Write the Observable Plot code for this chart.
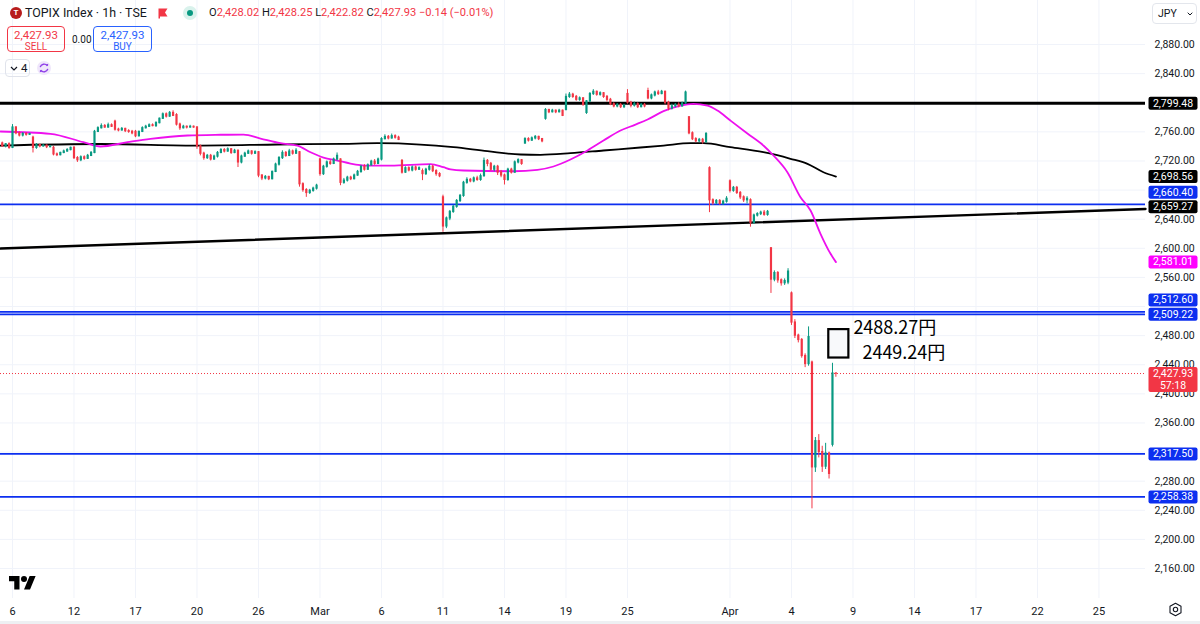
<!DOCTYPE html>
<html><head><meta charset="utf-8">
<script src="https://cdn.jsdelivr.net/npm/d3@7"></script>
<script src="https://cdn.jsdelivr.net/npm/@observablehq/plot@0.6"></script>
<style>
html,body{margin:0;padding:0;background:#fff;}
#wrap{position:relative;width:1200px;height:624px;overflow:hidden;font-family:Roboto,"Liberation Sans",sans-serif;color:#131722;}
#chart{position:absolute;left:0;top:0;}
.ov{position:absolute;white-space:nowrap;}
.r{color:#F23645;}
</style></head><body><div id="wrap"><div id="chart"></div>
<div class="ov" style="left:10px;top:7px;width:12px;height:12px;border-radius:50%;background:#b71c1c;color:#fff;font-weight:bold;font-size:8px;text-align:center;line-height:12px">T</div>
<div class="ov" style="left:25px;top:5px;font-size:12.4px;line-height:16px">TOPIX Index · 1h · TSE</div>
<svg class="ov" style="left:157px;top:7px" width="12" height="12" viewBox="0 0 12 12"><path d="M1.5 1.5H10.5L8 5.5L10.5 9.5H3V11.5H1.5Z" fill="#F23645"/></svg>
<div class="ov" style="left:183px;top:6px;width:14px;height:14px;border-radius:50%;background:#d9f2ec"></div>
<div class="ov" style="left:187px;top:10px;width:6px;height:6px;border-radius:50%;background:#089981"></div>
<div class="ov" style="left:209px;top:5px;font-size:11.1px;line-height:16px">O<span class="r">2,428.02</span> H<span class="r">2,428.25</span> L<span class="r">2,422.82</span> C<span class="r">2,427.93</span> <span class="r">−0.14 (−0.01%)</span></div>
<div class="ov" style="left:7px;top:26px;width:56px;height:24px;border:1px solid #F23645;border-radius:4px;text-align:center;color:#F23645">
 <div style="font-size:11.5px;line-height:13px;margin-top:2px">2,427.93</div><div style="font-size:10px;line-height:10px">SELL</div></div>
<div class="ov" style="left:72px;top:34px;font-size:10px;line-height:12px">0.00</div>
<div class="ov" style="left:93px;top:26px;width:57px;height:24px;border:1px solid #2962FF;border-radius:4px;text-align:center;color:#2962FF">
 <div style="font-size:11.5px;line-height:13px;margin-top:2px">2,427.93</div><div style="font-size:10px;line-height:10px">BUY</div></div>
<div class="ov" style="left:5px;top:59px;width:23px;height:16px;border:1px solid #e0e3eb;border-radius:4px;font-size:11.5px;line-height:16px">
 <svg style="position:absolute;left:4px;top:6px" width="8" height="5" viewBox="0 0 8 5"><path d="M1 1L4 4L7 1" fill="none" stroke="#131722" stroke-width="1.2"/></svg>
 <span style="position:absolute;left:15px;top:0">4</span></div>
<svg class="ov" style="left:37px;top:61px" width="14" height="14" viewBox="0 0 14 14"><circle cx="7" cy="7" r="7" fill="#efe6fb"/>
 <path d="M3.2 6.2A4 4 0 0 1 10.3 4.8" fill="none" stroke="#8e3fe8" stroke-width="1.4"/><path d="M10.8 7.8A4 4 0 0 1 3.7 9.2" fill="none" stroke="#8e3fe8" stroke-width="1.4"/>
 <path d="M9 3.6L11 5.2L11.2 2.8Z" fill="#8e3fe8"/><path d="M5 10.4L3 8.8L2.8 11.2Z" fill="#8e3fe8"/></svg>
<div class="ov" style="left:1152px;top:3px;width:43px;height:19px;border:1px solid #e3e6ec;border-radius:4px;font-size:10.5px;line-height:19px">
 <span style="position:absolute;left:5px">JPY</span>
 <svg style="position:absolute;left:34px;top:8px" width="6" height="4" viewBox="0 0 6 4"><path d="M0.7 0.7L3 3L5.3 0.7" fill="none" stroke="#131722" stroke-width="1"/></svg></div>
<svg class="ov" style="left:9px;top:573px" width="27" height="21" viewBox="0 0 36 28"><path d="M14 22H7V11H0V4h14v18zM28 22h-8l7.5-18h8L28 22z" fill="#000"/><circle cx="20" cy="8" r="4" fill="#000"/></svg>
<svg class="ov" style="left:1168px;top:602px" width="15" height="15" viewBox="0 0 15 15"><path d="M7.5 1.2L13 4.3V10.7L7.5 13.8L2 10.7V4.3Z" fill="none" stroke="#131722" stroke-width="1.1" stroke-linejoin="round"/><circle cx="7.5" cy="7.5" r="2.2" fill="none" stroke="#131722" stroke-width="1.1"/></svg>
<div class="ov" style="left:0;top:621px;width:1200px;height:3px;background:#eef0f3"></div>
</div>
<script>
// ---- time axis (trading sessions) ----
const tradingDays = ["2025-02-05","2025-02-06","2025-02-07","2025-02-10","2025-02-12","2025-02-13","2025-02-14","2025-02-17","2025-02-18","2025-02-19","2025-02-20","2025-02-21","2025-02-25","2025-02-26","2025-02-27","2025-02-28","2025-03-03","2025-03-04","2025-03-05","2025-03-06","2025-03-07","2025-03-10","2025-03-11","2025-03-12","2025-03-13","2025-03-14","2025-03-17","2025-03-18","2025-03-19","2025-03-21","2025-03-24","2025-03-25","2025-03-26","2025-03-27","2025-03-28","2025-03-31","2025-04-01","2025-04-02","2025-04-03","2025-04-04","2025-04-07","2025-04-08","2025-04-09","2025-04-10","2025-04-11","2025-04-14","2025-04-15","2025-04-16","2025-04-17","2025-04-18","2025-04-21","2025-04-22","2025-04-23","2025-04-24","2025-04-25","2025-04-28"];
const xTickDates = ["2025-02-06","2025-02-12","2025-02-17","2025-02-20","2025-02-26","2025-03-03","2025-03-06","2025-03-11","2025-03-14","2025-03-19","2025-03-25","2025-04-01","2025-04-04","2025-04-09","2025-04-14","2025-04-17","2025-04-22","2025-04-25"];
const xTickLabels = ["6","12","17","20","26","Mar","6","11","14","19","25","Apr","4","9","14","17","22","25"];
const yGrid = [2160,2200,2240,2280,2320,2360,2400,2440,2480,2520,2560,2600,2640,2680,2720,2760,2800,2840,2880];
// tick labels hidden behind the price-scale labels are not drawn (as on the reference)
const yTickLabels = [2160,2200,2240,2280,2360,2400,2440,2480,2560,2600,2640,2720,2760,2840,2880];
const slotsPerDay = 6;
const firstBarDay = "2025-02-05", firstBarSlot = 3;

// ---- hourly candles (Feb 5 late session .. Apr 8 10:00) ----
const opens = [
 2744,2740,2743,
 2738,2766,2758,2755,2757,2756,
 2752,2738,2742,2740,2741,2739,
 2738,2729,2728,2731,2733,2735,
 2738,2724,2721,2725,2723,2727,
 2731,2760,2765,2768,2766,2769,
 2774,2763,2762,2764,2761,2760,
 2760,2754,2760,2765,2767,2769,
 2768,2772,2778,2784,2781,2786,
 2783,2770,2765,2767,2766,2767,
 2766,2740,2730,2724,2727,2722,
 2726,2731,2735,2733,2736,2731,
 2734,2718,2726,2730,2733,2730,
 2732,2700,2696,2698,2695,2705,
 2715,2724,2731,2727,2733,2730,
 2732,2688,2680,2676,2679,2682,
 2722,2702,2712,2718,2716,2722,
 2722,2690,2693,2697,2695,2700,
 2705,2712,2708,2714,2719,2716,
 2722,2750,2753,2751,2754,2752,
 2720,2704,2710,2707,2711,2708,
 2706,2702,2708,2712,2706,2702,
 2670,2630,2641,2650,2657,2665,
 2672,2690,2694,2692,2696,2694,
 2699,2720,2716,2708,2712,2704,
 2700,2694,2708,2704,2718,2721,
 2744,2750,2748,2751,2753,2750,
 2778,2790,2787,2789,2787,2789,
 2790,2808,2811,2808,2804,2806,
 2786,2802,2812,2815,2811,2813,
 2808,2804,2798,2795,2797,2794,
 2812,2800,2796,2798,2794,2797,
 2816,2806,2810,2814,2812,2815,
 2800,2792,2795,2797,2795,2799,
 2780,2758,2750,2747,2749,2746,
 2710,2666,2662,2665,2661,2664,
 2692,2679,2683,2676,2670,2666,
 2666,2635,2645,2647,2649,2646,
 2600,2557,2566,2556,2552,2553,
 2538,2498,2480,2474,2452,2441,
 2443,2299,2335,2320,2300,2318,
 2330,2428.02];
const highs = [
 2746,2744,2745,
 2770,2767,2760,2759,2759,2758,
 2754,2744,2743,2743,2742,2741,
 2740,2731,2732,2735,2737,2739,
 2740,2726,2727,2727,2729,2733,
 2762,2767,2771,2770,2772,2771,
 2776,2765,2766,2765,2763,2762,
 2762,2761,2767,2769,2771,2771,
 2774,2779,2786,2786,2788,2789,
 2785,2772,2769,2768,2769,2768,
 2767,2742,2732,2729,2729,2728,
 2733,2737,2737,2738,2737,2736,
 2735,2728,2732,2735,2734,2734,
 2733,2701,2700,2699,2706,2717,
 2726,2734,2733,2736,2735,2737,
 2733,2690,2682,2681,2684,2688,
 2724,2714,2720,2721,2724,2731,
 2723,2696,2699,2699,2702,2707,
 2714,2715,2716,2721,2722,2724,
 2752,2756,2755,2757,2756,2754,
 2722,2712,2712,2713,2713,2712,
 2709,2710,2715,2714,2708,2704,
 2673,2643,2652,2659,2667,2674,
 2692,2697,2696,2698,2699,2702,
 2724,2722,2718,2714,2714,2707,
 2702,2710,2710,2720,2723,2722,
 2752,2752,2753,2755,2754,2751,
 2792,2791,2791,2790,2791,2790,
 2812,2814,2813,2810,2808,2807,
 2803,2814,2818,2816,2815,2814,
 2810,2806,2800,2799,2799,2798,
 2818,2802,2801,2800,2799,2799,
 2820,2812,2816,2817,2817,2816,
 2802,2798,2799,2800,2801,2816,
 2781,2760,2752,2751,2751,2759,
 2712,2668,2667,2667,2666,2671,
 2694,2685,2685,2678,2672,2671,
 2668,2647,2649,2651,2652,2652,
 2601,2569,2568,2558,2558,2572,
 2540,2502,2482,2476,2455,2492,
 2445,2340,2344,2328,2332,2320,
 2442,2428.25];
const lows = [
 2739,2738,2736,
 2737,2756,2753,2753,2754,2755,
 2731,2736,2738,2739,2737,2738,
 2727,2726,2727,2730,2732,2734,
 2722,2718,2719,2721,2722,2726,
 2730,2759,2764,2765,2765,2766,
 2761,2760,2761,2759,2758,2756,
 2752,2753,2759,2764,2766,2767,
 2766,2771,2777,2779,2780,2781,
 2768,2762,2764,2764,2765,2765,
 2736,2727,2721,2722,2720,2721,
 2724,2730,2731,2732,2729,2730,
 2711,2716,2725,2729,2728,2729,
 2697,2693,2694,2693,2694,2704,
 2713,2722,2725,2726,2728,2729,
 2684,2677,2670,2674,2677,2680,
 2699,2700,2710,2714,2715,2720,
 2686,2688,2691,2693,2694,2699,
 2703,2706,2707,2713,2714,2715,
 2720,2749,2749,2750,2750,2748,
 2702,2703,2705,2705,2706,2707,
 2693,2700,2706,2704,2699,2697,
 2622,2627,2638,2648,2655,2663,
 2670,2688,2690,2690,2692,2692,
 2698,2712,2706,2705,2700,2697,
 2687,2692,2702,2703,2716,2714,
 2743,2746,2747,2749,2748,2745,
 2776,2785,2786,2785,2786,2781,
 2789,2806,2806,2802,2802,2795,
 2784,2800,2810,2809,2809,2806,
 2801,2796,2793,2793,2792,2792,
 2798,2793,2794,2792,2793,2793,
 2804,2804,2808,2810,2811,2797,
 2789,2790,2793,2793,2794,2798,
 2756,2748,2745,2745,2743,2744,
 2649,2659,2660,2659,2659,2662,
 2676,2677,2674,2667,2663,2661,
 2629,2633,2643,2645,2644,2644,
 2538,2554,2552,2548,2549,2550,
 2494,2476,2470,2449,2436,2438,
 2242,2292,2312,2292,2296,2283,
 2327,2422.82];
const closes = [
 2740,2743,2738,
 2766,2758,2755,2757,2756,2757,
 2738,2742,2740,2741,2739,2740,
 2729,2728,2731,2733,2735,2738,
 2724,2721,2725,2723,2727,2731,
 2760,2765,2768,2766,2769,2767,
 2763,2762,2764,2761,2760,2758,
 2754,2760,2765,2767,2769,2768,
 2772,2778,2784,2781,2786,2782,
 2770,2765,2767,2766,2767,2766,
 2740,2730,2724,2727,2722,2726,
 2731,2735,2733,2736,2731,2734,
 2718,2726,2730,2733,2730,2732,
 2700,2696,2698,2695,2705,2715,
 2724,2731,2727,2733,2730,2734,
 2688,2680,2676,2679,2682,2686,
 2702,2712,2718,2716,2722,2727,
 2690,2693,2697,2695,2700,2705,
 2712,2708,2714,2719,2716,2722,
 2750,2753,2751,2754,2752,2749,
 2704,2710,2707,2711,2708,2710,
 2702,2708,2712,2706,2702,2699,
 2630,2641,2650,2657,2665,2672,
 2690,2694,2692,2696,2694,2699,
 2720,2716,2708,2712,2704,2700,
 2694,2708,2704,2718,2721,2716,
 2750,2748,2751,2753,2750,2747,
 2790,2787,2789,2787,2789,2782,
 2808,2811,2808,2804,2806,2797,
 2802,2812,2815,2811,2813,2808,
 2804,2798,2795,2797,2794,2796,
 2800,2796,2798,2794,2797,2795,
 2806,2810,2814,2812,2815,2800,
 2792,2795,2797,2795,2799,2814,
 2758,2750,2747,2749,2746,2757,
 2666,2662,2665,2661,2664,2668,
 2679,2683,2676,2670,2666,2668,
 2635,2645,2647,2649,2646,2650,
 2557,2566,2556,2552,2555,2568,
 2498,2480,2474,2452,2441,2478,
 2299,2335,2320,2300,2318,2290,
 2428,2427.93];

// ---- moving averages, read at sample times (session index) ----
const maFastT = [0.41,2.85,4.46,5.29,6.61,7.73,9.54,11.15,12.27,13.1,14.07,14.9,15.54,16.17,16.85,17.49,18.32,19.44,21.39,22.02,22.37,23.0,25.44,26.61,27.39,28.22,29.05,29.83,30.66,31.39,31.98,32.76,33.59,34.22,34.9,35.39,36.02,36.85,37.63,38.12,38.8,39.44,39.93,40.41,40.9,41.17];
const maFastV = [2760.5,2757.3,2745.8,2739.9,2745.8,2750.4,2755,2756,2756.3,2750.8,2744.4,2741.2,2732,2724.7,2720.6,2716.5,2713.7,2713.7,2715.8,2711.4,2708.3,2706.9,2705.9,2707.8,2712.4,2722,2734.4,2748.1,2761.8,2770,2777,2788.4,2796.2,2798.5,2796.2,2789.3,2775.6,2757.7,2741.2,2727.5,2704.5,2670.2,2651.9,2620.3,2592.8,2581.01];
const maSlowT = [0.41,5.29,10.17,13.93,17.15,18.8,20.9,22.51,24.17,25.78,26.76,28.22,29.83,31.63,32.76,34.07,34.71,36.02,37.63,38.95,39.78,40.56,41.17];
const maSlowV = [2741.2,2743.3,2741.2,2742.6,2743.6,2744.4,2742.6,2738.9,2733.4,2728.9,2728.5,2730.7,2734.4,2738.5,2741.2,2744.4,2744.4,2738.9,2732,2723,2716.1,2704.5,2698.56];

// ---- drawings ----
const trendT = [0.415, 56.27];
const trendV = [2599.7, 2654];
const blackLevel = 2799.48;
const blueLevels = [2660.40, 2512.60, 2509.22, 2317.50, 2258.38];
const lastPrice = 2427.93;
const countdown = "57:18";
const boxT = [40.82, 41.8];
const boxV = [2449.24, 2488.27];
const noteT = [42.02, 42.46];
const noteV = [2488.27, 2449.24];
const noteText = ["2488.27円", "2449.24円"];
const priceLabelValues = [2799.48, 2698.56, 2660.40, 2659.27, 2581.01, 2512.60, 2509.22, 2317.50, 2258.38];
const priceLabelColors = ["#000000", "#000000", "#0c2ff0", "#000000", "#ff00ff", "#0c2ff0", "#0c2ff0", "#0c2ff0", "#0c2ff0"];

// ---- build ----
const fmt = d3.format(",.2f");
const bars = [];
{
  let day = tradingDays.indexOf(firstBarDay), slot = firstBarSlot;
  for (let i = 0; i < closes.length; i++) {
    bars.push({t: day + slot / slotsPerDay, o: opens[i], h: highs[i], l: lows[i], c: closes[i]});
    if (++slot === slotsPerDay) { slot = 0; day++; }
  }
}
const up = "#089981", down = "#F23645", blue = "#0c2ff0", magenta = "#ee10ee";
const candleColor = d => d.c >= d.o ? up : down;
const xTickT = xTickDates.map(d => tradingDays.indexOf(d));
const xLabelMap = new Map(xTickT.map((t, i) => [t, xTickLabels[i]]));
const maFast = maFastT.map((t, i) => ({t, v: maFastV[i]}));
const maSlow = maSlowT.map((t, i) => ({t, v: maSlowV[i]}));
const trend = trendT.map((t, i) => ({t, v: trendV[i]}));
const notes = noteT.map((t, i) => ({t, v: noteV[i], text: noteText[i]}));
const labels = priceLabelValues.map((v, i) => ({v, text: fmt(v), color: priceLabelColors[i]}));
// price-scale labels that TradingView stacks to avoid a collision
const stackedUp = new Set([2660.40, 2512.60]);
const stackedDown = new Set([2659.27]);
const mainLabels = labels.filter(d => !stackedUp.has(d.v) && !stackedDown.has(d.v));
const upLabels = labels.filter(d => stackedUp.has(d.v));
const downLabels = labels.filter(d => stackedDown.has(d.v));

function roundRect(w, top, bottom, r) {
  return {draw(ctx) {
    ctx.moveTo(-w + r, top); ctx.lineTo(w - r, top); ctx.arcTo(w, top, w, top + r, r);
    ctx.lineTo(w, bottom - r); ctx.arcTo(w, bottom, w - r, bottom, r);
    ctx.lineTo(-w + r, bottom); ctx.arcTo(-w, bottom, -w, bottom - r, r);
    ctx.lineTo(-w, top + r); ctx.arcTo(-w, top, -w + r, top, r); ctx.closePath();
  }};
}
const boxSym = roundRect(24.5, -6.5, 6.5, 2);
const tallSym = roundRect(24.5, -6.5, 18.5, 2);
const labelDx = 27.5;
const labelMarks = (data, dy) => [
  Plot.dot(data, {y: "v", fill: "color", symbol: boxSym, frameAnchor: "right", dx: labelDx, dy, r: 5}),
  Plot.text(data, {y: "v", text: "text", fill: "#fff", frameAnchor: "right", dx: labelDx, dy, textAnchor: "middle"})
];

const plot = Plot.plot({
  width: 1200, height: 624,
  marginLeft: 0, marginRight: 55, marginTop: 0, marginBottom: 26,
  style: {fontFamily: "Roboto, 'Liberation Sans', sans-serif", fontSize: "10.5px", color: "#131722", background: "transparent", overflow: "visible"},
  x: {type: "linear", domain: [0.415, 56.27]},
  y: {type: "linear", domain: [2118.8, 2940.5]},
  color: {type: "identity"},
  marks: [
    Plot.ruleY(yGrid, {stroke: "#f0f3fa"}),
    Plot.ruleX(xTickT, {stroke: "#f0f3fa"}),
    Plot.axisY({anchor: "right", ticks: yTickLabels, tickFormat: fmt, tickSize: 0, tickPadding: 9, label: null, fill: "#131722"}),
    Plot.axisX({ticks: xTickT, tickFormat: d => xLabelMap.get(d), tickSize: 0, tickPadding: 9, label: null, fontSize: 11, fill: "#131722"}),
    Plot.ruleY([blackLevel], {stroke: "#000", strokeWidth: 3}),
    Plot.ruleY(blueLevels, {stroke: blue, strokeWidth: 1.7}),
    Plot.line(trend, {x: "t", y: "v", stroke: "#000", strokeWidth: 2.4}),
    Plot.line(maSlow, {x: "t", y: "v", stroke: "#000", strokeWidth: 1.8, curve: "monotone-x"}),
    Plot.line(maFast, {x: "t", y: "v", stroke: magenta, strokeWidth: 1.8, curve: "monotone-x"}),
    Plot.ruleY([lastPrice], {stroke: down, strokeWidth: 1, strokeDasharray: "1,2"}),
    Plot.ruleX(bars, {x: "t", y1: "l", y2: "h", stroke: candleColor, strokeWidth: 1}),
    Plot.ruleX(bars, {x: "t", y1: d => Math.max(d.o, d.c), y2: d => Math.min(d.o, d.c), stroke: candleColor, strokeWidth: 2.2, insetTop: -0.6, insetBottom: -0.6}),
    Plot.rect([0], {x1: () => boxT[0], x2: () => boxT[1], y1: () => boxV[0], y2: () => boxV[1], fill: "#f8f9fb", stroke: "#000", strokeWidth: 2.2}),
    Plot.text(notes.slice(0, 1), {x: "t", y: "v", text: "text", textAnchor: "start", lineAnchor: "bottom", dy: 4, fontSize: 18, fontFamily: "'Noto Sans CJK JP', sans-serif", fill: "#000"}),
    Plot.text(notes.slice(1), {x: "t", y: "v", text: "text", textAnchor: "start", lineAnchor: "bottom", dy: 1, fontSize: 18, fontFamily: "'Noto Sans CJK JP', sans-serif", fill: "#000"}),
    ...labelMarks(mainLabels, 0),
    ...labelMarks(upLabels, -12),
    ...labelMarks(downLabels, 1.5),
    Plot.dot([lastPrice], {y: d => d, fill: down, symbol: tallSym, frameAnchor: "right", dx: labelDx, r: 5}),
    Plot.text([lastPrice], {y: d => d, text: d => fmt(d), fill: "#fff", frameAnchor: "right", dx: labelDx, textAnchor: "middle"}),
    Plot.text([lastPrice], {y: d => d, text: () => countdown, fill: "#fff", frameAnchor: "right", dx: labelDx, dy: 12, textAnchor: "middle"})
  ]
});
document.getElementById("chart").appendChild(plot);
</script></body></html>
